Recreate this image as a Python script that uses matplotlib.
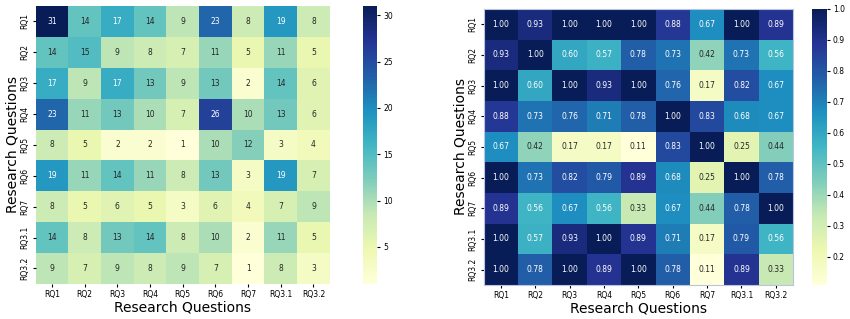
import numpy as np
import matplotlib
matplotlib.use("Agg")
import matplotlib.pyplot as plt
import seaborn as sns

labels = ["RQ1", "RQ2", "RQ3", "RQ4", "RQ5", "RQ6", "RQ7", "RQ3.1", "RQ3.2"]

counts = [
    [31, 14, 17, 14, 9, 23, 8, 19, 8],
    [14, 15, 9, 8, 7, 11, 5, 11, 5],
    [17, 9, 17, 13, 9, 13, 2, 14, 6],
    [23, 11, 13, 10, 7, 26, 10, 13, 6],
    [8, 5, 2, 2, 1, 10, 12, 3, 4],
    [19, 11, 14, 11, 8, 13, 3, 19, 7],
    [8, 5, 6, 5, 3, 6, 4, 7, 9],
    [14, 8, 13, 14, 8, 10, 2, 11, 5],
    [9, 7, 9, 8, 9, 7, 1, 8, 3],
]

ratios = [
    [1.00, 0.93, 1.00, 1.00, 1.00, 0.88, 0.67, 1.00, 0.89],
    [0.93, 1.00, 0.60, 0.57, 0.78, 0.73, 0.42, 0.73, 0.56],
    [1.00, 0.60, 1.00, 0.93, 1.00, 0.76, 0.17, 0.82, 0.67],
    [0.88, 0.73, 0.76, 0.71, 0.78, 1.00, 0.83, 0.68, 0.67],
    [0.67, 0.42, 0.17, 0.17, 0.11, 0.83, 1.00, 0.25, 0.44],
    [1.00, 0.73, 0.82, 0.79, 0.89, 0.68, 0.25, 1.00, 0.78],
    [0.89, 0.56, 0.67, 0.56, 0.33, 0.67, 0.44, 0.78, 1.00],
    [1.00, 0.57, 0.93, 1.00, 0.89, 0.71, 0.17, 0.79, 0.56],
    [1.00, 0.78, 1.00, 0.89, 1.00, 0.78, 0.11, 0.89, 0.33],
]

fig = plt.figure(figsize=(8.5, 3.19), dpi=100)

ax1 = fig.add_axes([0.042, 0.11, 0.346, 0.871])
cax1 = fig.add_axes([0.427, 0.11, 0.0165, 0.871])
ax2 = fig.add_axes([0.569, 0.107, 0.364, 0.865])
cax2 = fig.add_axes([0.955, 0.107, 0.0176, 0.865])

sns.heatmap(np.array(counts), annot=True, fmt="d", cmap="YlGnBu", ax=ax1, cbar_ax=cax1,
            xticklabels=labels, yticklabels=labels, annot_kws={"size": 5.5})
sns.heatmap(np.array(ratios), annot=True, fmt=".2f", cmap="YlGnBu", ax=ax2, cbar_ax=cax2,
            xticklabels=labels, yticklabels=labels, annot_kws={"size": 5.5})

for ax in (ax1, ax2):
    ax.set_xlabel("Research Questions", fontsize=10, labelpad=1)
    ax.set_ylabel("Research Questions", fontsize=10, labelpad=1)
    ax.tick_params(labelsize=5.5, length=2.5, pad=2)
    plt.setp(ax.get_xticklabels(), rotation=0)
    plt.setp(ax.get_yticklabels(), rotation=90, va="center")

# faint frame around the right heatmap, as in the original
for sp in ax2.spines.values():
    sp.set_visible(True)
    sp.set_color("#b8c4e0")
    sp.set_linewidth(0.8)

for cax in (cax1, cax2):
    cax.tick_params(labelsize=5.5, length=2.5, pad=2)

fig.savefig("out.png", dpi=100)
